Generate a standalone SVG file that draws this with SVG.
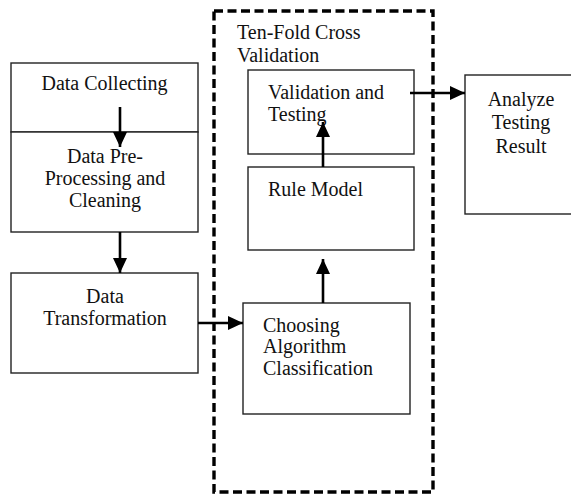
<svg xmlns="http://www.w3.org/2000/svg" width="571" height="494" viewBox="0 0 571 494">
<style>
.box{fill:#fff;stroke:#222;stroke-width:1.4}
.t{font-family:"Liberation Serif","Times New Roman",serif;font-size:20px;fill:#111}
.c{text-anchor:middle}
.conn{stroke:#000;stroke-width:2.6;fill:none}
.dash{fill:none;stroke:#000;stroke-width:3.4;stroke-dasharray:9 4.5}
</style>
<defs>
<marker id="ah" markerUnits="userSpaceOnUse" markerWidth="16" markerHeight="15" refX="15" refY="7" orient="auto">
<path d="M0,0 L15,7 L0,14 z" fill="#000"/>
</marker>
</defs>
<rect width="571" height="494" fill="#fff"/>
<g id="crossval">
<rect class="dash" x="214" y="11" width="219" height="481"/>
<text class="t" x="237" y="39">Ten-Fold Cross</text>
<text class="t" x="237" y="62">Validation</text>
</g>
<g id="collect">
<rect class="box" x="11" y="63" width="187" height="69"/>
<text class="t c" x="104.5" y="90">Data Collecting</text>
</g>
<g id="preprocess">
<rect class="box" x="11" y="132" width="187" height="100"/>
<text class="t c" x="105" y="163">Data Pre-</text>
<text class="t c" x="105" y="185">Processing and</text>
<text class="t c" x="105" y="207">Cleaning</text>
</g>
<g id="transform">
<rect class="box" x="11" y="273" width="187" height="100"/>
<text class="t c" x="105" y="303">Data</text>
<text class="t c" x="105" y="325">Transformation</text>
</g>
<g id="choose">
<rect class="box" x="243" y="303" width="167" height="111"/>
<text class="t" x="263" y="332">Choosing</text>
<text class="t" x="263" y="353">Algorithm</text>
<text class="t" x="263" y="375">Classification</text>
</g>
<g id="rule">
<rect class="box" x="248" y="167" width="166" height="83"/>
<text class="t" x="268" y="196">Rule Model</text>
</g>
<g id="validate">
<rect class="box" x="248" y="70" width="166" height="84"/>
<text class="t" x="268" y="99">Validation and</text>
<text class="t" x="268" y="121">Testing</text>
</g>
<g id="analyze">
<rect class="box" x="465" y="75" width="115" height="139"/>
<text class="t c" x="521" y="106">Analyze</text>
<text class="t c" x="521" y="129">Testing</text>
<text class="t c" x="521" y="153">Result</text>
</g>
<g id="connectors">
<line class="conn" x1="120" y1="107" x2="120" y2="147" marker-end="url(#ah)"/>
<line class="conn" x1="120" y1="232" x2="120" y2="273" marker-end="url(#ah)"/>
<line class="conn" x1="198" y1="323" x2="243" y2="323" marker-end="url(#ah)"/>
<line class="conn" x1="323" y1="303" x2="323" y2="259" marker-end="url(#ah)"/>
<line class="conn" x1="323" y1="167" x2="323" y2="122" marker-end="url(#ah)"/>
<line class="conn" x1="410" y1="93" x2="465" y2="93" marker-end="url(#ah)"/>
</g>
</svg>
